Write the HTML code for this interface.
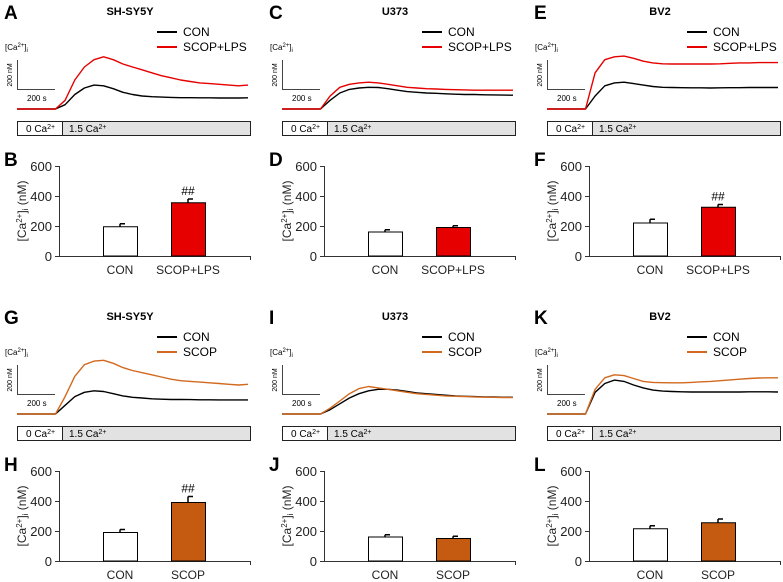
<!DOCTYPE html>
<html><head><meta charset="utf-8">
<style>
html,body{margin:0;padding:0;background:#fff;}
svg{display:block;font-family:"Liberation Sans",Arial,sans-serif;}
</style></head>
<body>
<svg id="fig" width="783" height="582" viewBox="0 0 783 582"></svg>
<script>
// ---- data ----
const traceTimes = [0,50,100,150,200,250,300,350,400,450,500,550,600,650,700,750,800,850,900,950,1000,1050,1100,1150,1200];
const traceA_con  = [0,0,0,0,0,30,100,145,165,160,140,115,100,90,85,82,80,78,78,77,77,76,76,76,77];
const traceA_trt  = [0,0,0,0,0,60,200,290,340,360,340,310,290,270,250,230,215,200,190,180,175,170,165,160,165];
const traceC_con  = [0,0,0,0,0,60,110,135,145,150,148,140,130,120,115,110,108,105,102,100,100,98,97,96,95];
const traceC_trt  = [0,0,0,0,0,90,150,170,180,185,180,170,160,150,145,140,138,135,133,132,130,130,130,130,130];
const traceE_con  = [0,0,0,0,0,90,160,180,185,175,165,155,150,148,147,146,146,145,146,147,147,148,148,148,148];
const traceE_trt  = [0,0,0,0,0,250,340,360,365,350,330,318,312,310,310,310,310,310,312,315,318,318,320,320,320];
const traceG_con  = [0,0,0,0,0,60,120,150,160,155,140,125,115,110,105,102,100,100,99,98,98,97,97,97,97];
const traceG_trt  = [0,0,0,0,0,120,260,340,365,370,350,320,300,285,270,255,240,230,225,220,215,210,205,200,205];
const traceI_con  = [0,0,0,0,0,30,70,110,140,160,170,170,165,155,145,140,135,130,125,122,120,118,117,116,115];
const traceI_trt  = [0,0,0,0,0,40,90,140,175,190,180,170,160,150,140,135,130,125,122,120,118,116,115,114,113];
const traceK_con  = [0,0,0,0,0,150,210,234,225,200,180,165,158,155,153,152,152,152,152,152,152,153,153,153,152];
const traceK_trt  = [0,0,0,0,0,170,250,270,265,245,225,218,216,215,215,218,222,225,230,235,240,245,248,250,250];
const barCategoriesLPS = ["CON","SCOP+LPS"];
const barCategoriesSCOP = ["CON","SCOP"];
const barB = [195,355]; const errB = [20,25];
const barD = [160,190]; const errD = [15,12];
const barF = [220,325]; const errF = [25,18];
const barH = [190,390]; const errH = [20,40];
const barJ = [160,150]; const errJ = [15,15];
const barL = [215,255]; const errL = [20,25];
const yTicks = [0,200,400,600];

const NS="http://www.w3.org/2000/svg";
const svg=document.getElementById('fig');
function el(tag,attrs,parent,text){const e=document.createElementNS(NS,tag);for(const k in attrs)e.setAttribute(k,attrs[k]);if(text!==undefined)e.textContent=text;(parent||svg).appendChild(e);return e;}

const RED="#e60000", ORANGE_LINE="#d2691e", ORANGE_BAR="#c55a11";
const panels=[
 {cx:0,ry:0,L1:"A",L2:"B",title:"SH-SY5Y",con:traceA_con,trt:traceA_trt,trtName:"SCOP+LPS",col:RED,bcol:RED,cats:barCategoriesLPS,bars:barB,err:errB,sig:true},
 {cx:265,ry:0,L1:"C",L2:"D",title:"U373",con:traceC_con,trt:traceC_trt,trtName:"SCOP+LPS",col:RED,bcol:RED,cats:barCategoriesLPS,bars:barD,err:errD,sig:false},
 {cx:530,ry:0,L1:"E",L2:"F",title:"BV2",con:traceE_con,trt:traceE_trt,trtName:"SCOP+LPS",col:RED,bcol:RED,cats:barCategoriesLPS,bars:barF,err:errF,sig:true},
 {cx:0,ry:305,L1:"G",L2:"H",title:"SH-SY5Y",con:traceG_con,trt:traceG_trt,trtName:"SCOP",col:ORANGE_LINE,bcol:ORANGE_BAR,cats:barCategoriesSCOP,bars:barH,err:errH,sig:true},
 {cx:265,ry:305,L1:"I",L2:"J",title:"U373",con:traceI_con,trt:traceI_trt,trtName:"SCOP",col:ORANGE_LINE,bcol:ORANGE_BAR,cats:barCategoriesSCOP,bars:barJ,err:errJ,sig:false},
 {cx:530,ry:305,L1:"K",L2:"L",title:"BV2",con:traceK_con,trt:traceK_trt,trtName:"SCOP",col:ORANGE_LINE,bcol:ORANGE_BAR,cats:barCategoriesSCOP,bars:barL,err:errL,sig:false}
];

panels.forEach(p=>{
 const g=el('g',{transform:`translate(${p.cx},${p.ry})`});
 
 
 let t;
 t=el('text',{x:4,y:19,'font-size':19,'font-weight':'bold'},g,p.L1);
 
 
 t=el('text',{x:130,y:15,'font-size':11,'font-weight':'bold','text-anchor':'middle'},g,p.title);
 
 
 // legend
 const lg=el('g',{},g);
 
 
 el('line',{x1:157,y1:32,x2:177,y2:32,stroke:'#000','stroke-width':2},lg);
 el('text',{x:183,y:36,'font-size':12},lg,"CON");
 el('line',{x1:157,y1:47,x2:177,y2:47,stroke:p.col,'stroke-width':2},lg);
 el('text',{x:183,y:51,'font-size':12},lg,p.trtName);
 // ca label & scale bar
 t=el('text',{x:5,y:50,'font-size':8},g);
 
 
 t.innerHTML='[Ca<tspan dy="-3" font-size="6">2+</tspan><tspan dy="3">]</tspan><tspan dy="2" font-size="6">i</tspan>';
 const sb=el('g',{},g);
 
 
 el('path',{d:'M17.5 60 V89.5 H55',fill:'none',stroke:'#444','stroke-width':1},sb);
 el('text',{x:0,y:0,'font-size':7,'text-anchor':'middle',transform:'translate(12,75) rotate(-90)'},sb,"200 nM");
 el('text',{x:27,y:101,'font-size':8},sb,"200 s");
 // traces
 const xT=v=>17+v/1200*231, yT=v=>109-v/200*29;
 [[p.con,'#000','trace-con'],[p.trt,p.col,'trace-treatment']].forEach(([arr,c,n],k)=>{
   const d=arr.map((v,i)=>(i?'L':'M')+xT(traceTimes[i]).toFixed(1)+' '+yT(v).toFixed(1)).join(' ');
   const pl=el('path',{d:d,fill:'none',stroke:c,'stroke-width':1.4,'stroke-linejoin':'round'},g);
   
   
 });
 // strip
 const st=el('g',{},g);
 
 
 el('rect',{x:17.5,y:121.5,width:233,height:14,fill:'#e2e2e2',stroke:'#222','stroke-width':1},st);
 el('rect',{x:17.5,y:121.5,width:45,height:14,fill:'#fff',stroke:'#222','stroke-width':1},st);
 const s1=el('text',{x:26,y:132,'font-size':10},st); s1.innerHTML='0 Ca<tspan dy="-3" font-size="7">2+</tspan>';
 const s2=el('text',{x:69,y:132,'font-size':10},st); s2.innerHTML='1.5 Ca<tspan dy="-3" font-size="7">2+</tspan>';
 // bar chart
 t=el('text',{x:4,y:166,'font-size':19,'font-weight':'bold'},g,p.L2);
 
 
 const yB=v=>256-v/600*90;
 const ax=el('g',{},g);
 
 
 el('line',{x1:59.5,y1:166,x2:59.5,y2:256.5,stroke:'#333'},ax);
 yTicks.forEach(v=>{
   el('line',{x1:55,y1:yB(v)+.5,x2:59.5,y2:yB(v)+.5,stroke:'#333'},ax);
   el('text',{x:52,y:yB(v)+5,'font-size':13,'text-anchor':'end',fill:'#222'},ax,String(v));
 });
 const xa=el('line',{x1:59.5,y1:256.5,x2:251,y2:256.5,stroke:'#333'},g);
 
 
 el('line',{x1:250.5,y1:256.5,x2:250.5,y2:260,stroke:'#333'},g);
 const yt=el('text',{x:0,y:0,'font-size':12,'text-anchor':'middle',fill:'#222',transform:'translate(26,211) rotate(-90)'},g);
 
 
 yt.innerHTML='[Ca<tspan dy="-4" font-size="8">2+</tspan><tspan dy="4">]</tspan><tspan dy="2" font-size="8">i</tspan><tspan dy="-2"> (nM)</tspan>';
 const centers=[120,188];
 p.bars.forEach((v,i)=>{
   const x=centers[i]-17;
   const r=el('rect',{x:x+.5,y:yB(v),width:34,height:256-yB(v),fill:i?p.bcol:'#fff',stroke:'#000','stroke-width':1},g);
   
   
   const top=yB(v+p.err[i]);
   const e=el('path',{d:`M${centers[i]} ${yB(v)} V${top} M${centers[i]} ${top} H${centers[i]+5}`,stroke:'#000','stroke-width':1.5,fill:'none'},g);
   
   
   const lb=el('text',{x:centers[i],y:274,'font-size':12,'text-anchor':'middle',fill:'#222'},g,p.cats[i]);
   
   
   if(i===1&&p.sig){
     const s=el('text',{x:centers[i],y:top-4,'font-size':12,'text-anchor':'middle'},g,"##");
     
     
   }
 });
});
</script>
</body></html>
